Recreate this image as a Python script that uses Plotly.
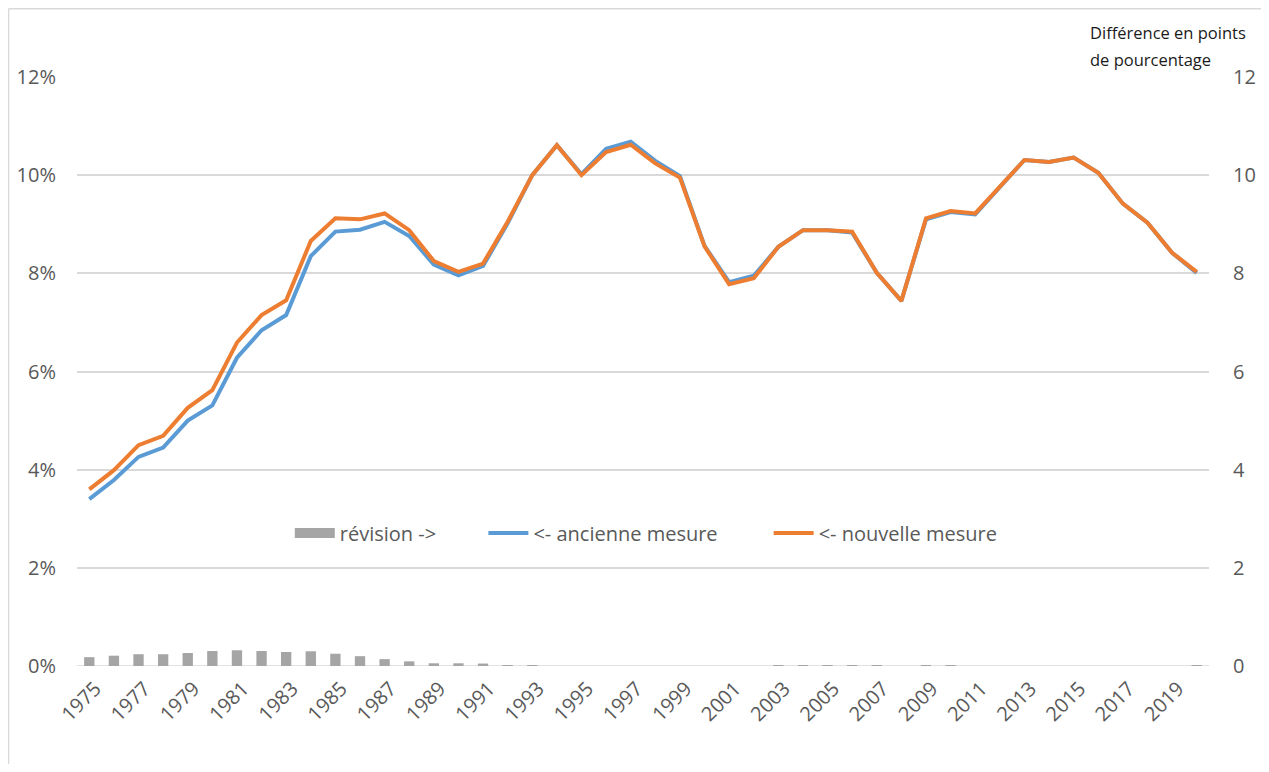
import plotly.graph_objects as go

years = list(range(1975, 2021))

ancienne = [3.40, 3.79, 4.26, 4.45, 5.00, 5.31, 6.28, 6.84, 7.15, 8.35,
            8.85, 8.89, 9.05, 8.76, 8.18, 7.96, 8.15, 9.02, 10.00, 10.61,
            10.02, 10.54, 10.68, 10.29, 9.98, 8.56, 7.82, 7.95, 8.54, 8.88,
            8.88, 8.83, 8.01, 7.44, 9.10, 9.25, 9.20, 9.76, 10.31, 10.27,
            10.36, 10.05, 9.42, 9.03, 8.42, 8.01]

nouvelle = [3.60, 3.99, 4.50, 4.69, 5.26, 5.62, 6.59, 7.15, 7.45, 8.66,
            9.12, 9.10, 9.22, 8.88, 8.25, 8.03, 8.20, 9.05, 10.00, 10.61,
            10.00, 10.47, 10.62, 10.24, 9.95, 8.55, 7.78, 7.90, 8.54, 8.88,
            8.88, 8.85, 8.01, 7.44, 9.12, 9.27, 9.22, 9.76, 10.31, 10.27,
            10.36, 10.05, 9.42, 9.03, 8.42, 8.03]

revision = [0.18, 0.21, 0.24, 0.24, 0.265, 0.305, 0.32, 0.305, 0.285, 0.30,
            0.25, 0.20, 0.14, 0.095, 0.055, 0.055, 0.05, 0.02, 0.005, -0.01,
            -0.025, -0.025, -0.025, -0.025, -0.025, -0.025, -0.025, -0.025, 0.005, 0.01,
            0.01, 0.02, 0.01, 0.0, 0.01, 0.02, 0.0, 0.0, 0.0, 0.0,
            0.0, 0.0, 0.0, 0.0, 0.0, 0.01]

left_ticks = [0, 2, 4, 6, 8, 10, 12]
left_labels = ["0%", "2%", "4%", "6%", "8%", "10%", "12%"]
right_ticks = [0, 2, 4, 6, 8, 10, 12]
right_labels = ["0", "2", "4", "6", "8", "10", "12"]
x_ticks = list(range(1975, 2021, 2))

FONT = "Open Sans"
GREY_TXT = "#595959"
BAR_GREY = "#A5A5A5"

fig = go.Figure()
# legend proxy for the bar series (wide grey swatch as in the original)
fig.add_trace(go.Scatter(x=[None], y=[None], name="révision ->", mode="lines",
                         line=dict(color=BAR_GREY, width=12), legendgroup="rev",
                         hoverinfo="skip", legend="legend"))
fig.add_trace(go.Bar(x=years, y=revision, name="révision ->", marker_color=BAR_GREY,
                     marker_line_width=0, yaxis="y2", legendgroup="rev", showlegend=False))
fig.add_trace(go.Scatter(x=years, y=ancienne, name="<- ancienne mesure", mode="lines",
                         line=dict(color="#5B9BD5", width=4), legend="legend2"))
fig.add_trace(go.Scatter(x=years, y=nouvelle, name="<- nouvelle mesure", mode="lines",
                         line=dict(color="#ED7D31", width=4), legend="legend3"))

border = dict(color="#D9D9D9", width=1.5)

def leg(xpos):
    return dict(orientation="h", x=xpos, xanchor="left", y=0.226, yanchor="middle",
                font=dict(size=20, color=GREY_TXT), bgcolor="rgba(0,0,0,0)",
                itemwidth=40)

fig.update_layout(
    width=1253, height=756,
    margin=dict(l=69, r=52, t=69, b=98, autoexpand=False),
    paper_bgcolor="white", plot_bgcolor="white",
    font=dict(family=FONT, size=20, color=GREY_TXT),
    bargap=0.58,
    showlegend=True,
    legend=leg(0.188),
    legend2=leg(0.359),
    legend3=leg(0.611),
    xaxis=dict(range=[1974.5, 2020.5], tickmode="array", tickvals=x_ticks,
               ticktext=[str(v) for v in x_ticks], tickangle=-45, showgrid=False,
               zeroline=False, showline=False, ticks="", tickfont=dict(size=20),
               ticklabelstandoff=6, ticklabelshift=6, automargin=False),
    yaxis=dict(range=[0, 12], tickmode="array", tickvals=left_ticks, ticktext=left_labels,
               showgrid=True, gridcolor="#D9D9D9", gridwidth=1.5, zeroline=False,
               showline=False, ticks="", ticklabelstandoff=20, automargin=False),
    yaxis2=dict(range=[0, 12], tickmode="array", tickvals=right_ticks, ticktext=right_labels,
                overlaying="y", side="right", showgrid=False, zeroline=False,
                showline=False, ticks="", ticklabelstandoff=23, automargin=False),
    annotations=[
        dict(text="Différence en points", xref="paper", yref="paper",
             x=0.893, y=1.0764, xanchor="left", yanchor="middle", showarrow=False,
             font=dict(size=16.5, color="#1a1a1a")),
        dict(text="de pourcentage", xref="paper", yref="paper",
             x=0.893, y=1.0289, xanchor="left", yanchor="middle", showarrow=False,
             font=dict(size=16.5, color="#1a1a1a")),
    ],
    shapes=[
        dict(type="line", xref="paper", yref="y", x0=0, x1=1, y0=0, y1=0,
             line=dict(color="#D9D9D9", width=1.5), layer="below"),
        dict(type="line", xref="paper", yref="paper", x0=-0.0605, x1=-0.0605, y0=1.116, y1=-0.2,
             line=border, layer="below"),
        dict(type="line", xref="paper", yref="paper", x0=-0.0605, x1=1.2, y0=1.116, y1=1.116,
             line=border, layer="below"),
    ],
)

fig.write_html("out.html")
